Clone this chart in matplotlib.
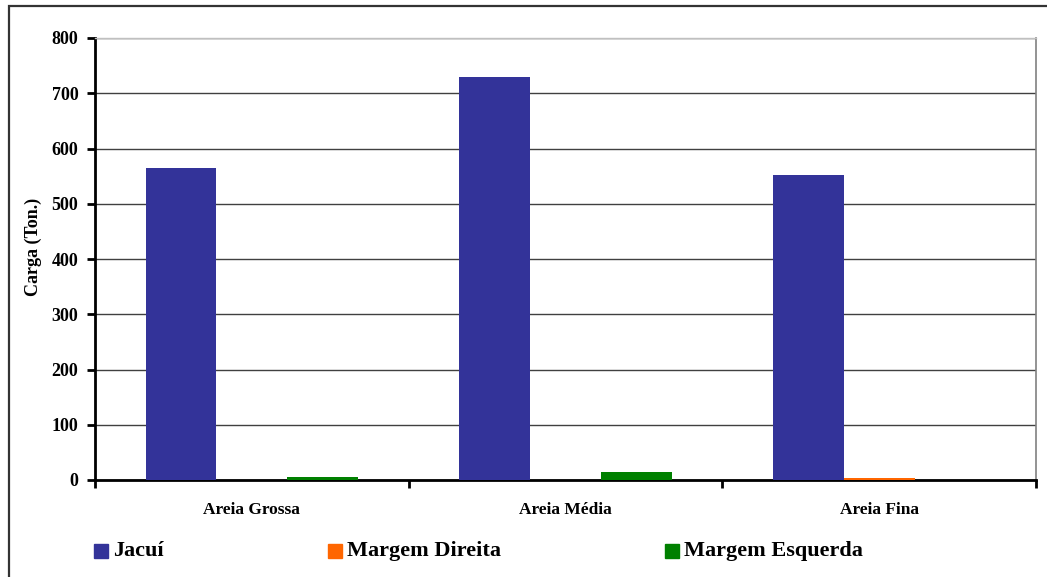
import matplotlib.pyplot as plt
from matplotlib.patches import Rectangle
import numpy as np

# data
categorias = ['Areia Grossa', 'Areia Média', 'Areia Fina']
series = ['Jacuí', 'Margem Direita', 'Margem Esquerda']
jacui = [565, 729, 552]
margem_direita = [0.5, 0.5, 3]
margem_esquerda = [5, 14, 0.5]
cores = ['#333399', '#FF6600', '#008000']
yticks = [0, 100, 200, 300, 400, 500, 600, 700, 800]

plt.rcParams['font.family'] = ['Liberation Serif', 'DejaVu Serif']
plt.rcParams['font.weight'] = 'bold'

W, H = 1047, 577
fig = plt.figure(figsize=(W / 100, H / 100), dpi=100, facecolor='white')
ax = fig.add_axes([95 / W, 1 - 480 / H, (1036 - 95) / W, (480 - 38) / H])

x = np.arange(len(categorias))
w = 0.226
for i, vals in enumerate([jacui, margem_direita, margem_esquerda]):
    ax.bar(x + (i - 1) * w, vals, width=w, color=cores[i], zorder=3, linewidth=0)

ax.set_xlim(-0.5, 2.5)
ax.set_ylim(0, 800)
ax.set_yticks(yticks)
ax.set_yticklabels([str(v) for v in yticks], fontsize=13, fontweight='bold')
ax.yaxis.grid(True, color='#404040', linewidth=1, zorder=0)
ax.set_axisbelow(True)

# category ticks sit on the group boundaries
ax.set_xticks([-0.5, 0.5, 1.5, 2.5])
ax.set_xticklabels([])
ax.set_xticks(x, minor=True)
ax.set_xticklabels(categorias, minor=True, fontsize=12.5, fontweight='bold')
ax.tick_params(axis='x', which='minor', length=0, pad=16)
ax.tick_params(axis='x', which='major', length=6, width=2, direction='out', color='black')
ax.tick_params(axis='y', length=6, width=2, direction='out', pad=6)

ax.set_ylabel('Carga (Ton.)', fontsize=13, fontweight='bold')
ax.yaxis.set_label_coords(-0.056, 0.527)

ax.spines['left'].set_linewidth(2)
ax.spines['bottom'].set_linewidth(2)
ax.spines['top'].set_color('#c0c0c0')
ax.spines['right'].set_color('#808080')
ax.spines['top'].set_linewidth(1)
ax.spines['right'].set_linewidth(1.2)

# legend laid out by hand like the original
leg_x = [94, 328, 665]
for nome, cor, lx in zip(series, cores, leg_x):
    fig.patches.append(Rectangle((lx / W, 1 - 558 / H), 14 / W, 14 / H,
                                 transform=fig.transFigure, color=cor))
    fig.text((lx + 19) / W, 1 - 551 / H, nome, fontsize=16, fontweight='bold',
             va='center', ha='left')

# outer chart frame
fig.patches.append(Rectangle((8.5 / W, -0.05), 1.1, 1 - 6 / H + 0.05,
                             transform=fig.transFigure, fill=False,
                             edgecolor='#333333', linewidth=1.6))

fig.savefig('out.png', dpi=100, facecolor='white')
